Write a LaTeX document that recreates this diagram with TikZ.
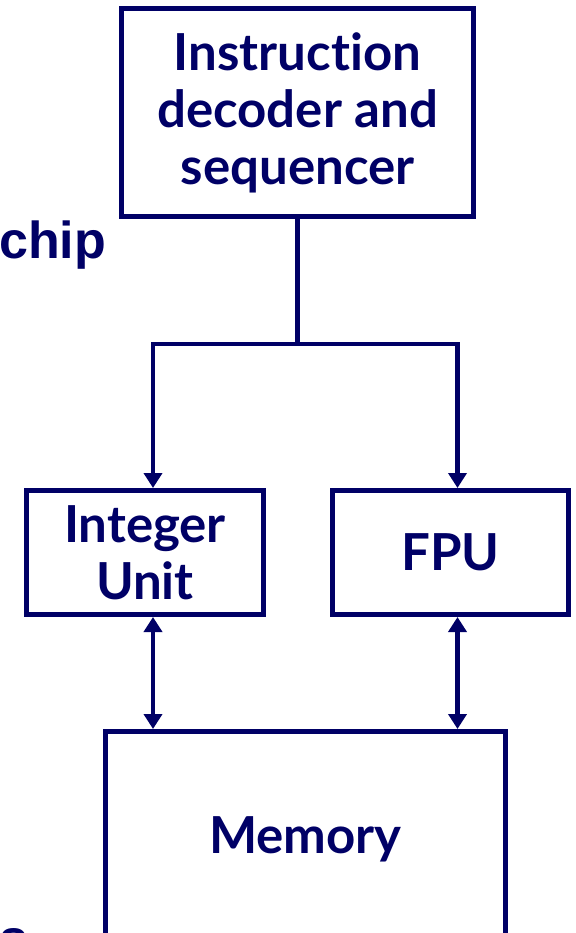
\documentclass[tikz,border=0pt]{standalone}
\usepackage{fontspec}
\setmainfont{Lato}[Ligatures=NoCommon]
\newfontfamily\captionfont{Liberation Sans}
\usetikzlibrary{arrows.meta}
\definecolor{navy}{RGB}{0,0,102}
\begin{document}
\begin{tikzpicture}[x=1pt,y=-1pt,
  unit/.style={draw=navy, line width=5pt, rectangle, inner sep=0pt,
    text=navy, font=\bfseries\fontsize{51}{57}\selectfont, align=center},
  wire/.style={draw=navy, line width=4.6pt},
  headtip/.tip={Triangle[width=18pt,length=15pt]},
  caption/.style={text=navy, inner sep=0pt,
    font=\captionfont\bfseries\fontsize{52}{52}\selectfont}]
\clip (0,0) rectangle (575,933);

% functional blocks
\node[unit, minimum width=352pt, minimum height=208pt] (seq) at (297.5,112.5)
  {Instruction\\decoder and\\sequencer};
\node[unit, minimum width=237pt, minimum height=124pt] (int) at (145,552.5)
  {Integer\\Unit};
\node[unit, minimum width=236pt, minimum height=124pt] (fpu) at (450.5,552.5)
  {FPU};
\node[unit, minimum width=400pt, minimum height=215pt] (mem) at (305.5,839)
  {Memory};

% branch points of the control bus
\coordinate (jl) at (153,344);
\coordinate (jr) at (457.5,344);

% control bus from the sequencer to both execution units
\draw[wire] (seq.south) -- (seq.south |- jl);
\draw[wire, headtip-headtip] (jl |- int.north) -- (jl) -- (jr) -- (jr |- fpu.north);

% data paths between the units and memory
\draw[wire, headtip-headtip] (jl |- int.south) -- (jl |- mem.north);
\draw[wire, headtip-headtip] (jr |- fpu.south) -- (jr |- mem.north);

% side captions
\node[caption, anchor=base west] (chip) at (-1,258) {chip};
\node[caption, anchor=base west] (tail) at (-30,956) {es};
\end{tikzpicture}
\end{document}
